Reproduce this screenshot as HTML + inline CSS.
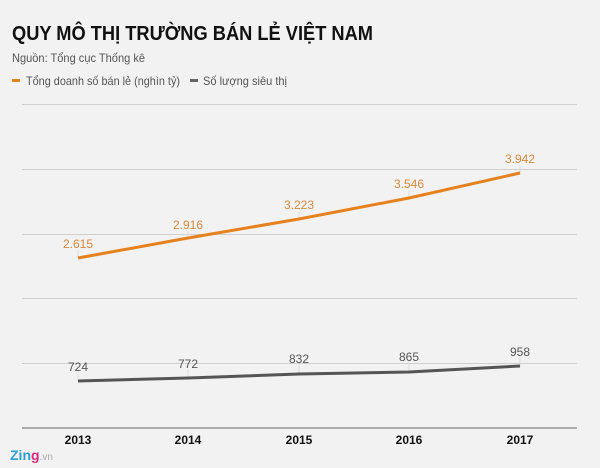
<!DOCTYPE html>
<html><head><meta charset="utf-8"><style>
body{margin:0;background:#f2f2f2;font-family:"Liberation Sans",Arial,sans-serif;}
</style></head><body>
<svg width="600" height="468" xmlns="http://www.w3.org/2000/svg" style="display:block;font-family:'Liberation Sans',Arial,sans-serif">
<rect width="600" height="468" fill="#f2f2f2"/>
<text x="12" y="40" font-size="20" font-weight="bold" fill="#111" textLength="361" lengthAdjust="spacingAndGlyphs">QUY MÔ THỊ TRƯỜNG BÁN LẺ VIỆT NAM</text>
<text x="12" y="62" font-size="12" fill="#555" textLength="133" lengthAdjust="spacingAndGlyphs">Nguồn: Tổng cục Thống kê</text>
<rect x="12" y="79" width="8" height="3" fill="#e5821e"/>
<text x="26" y="85" font-size="12" fill="#555" textLength="154" lengthAdjust="spacingAndGlyphs">Tổng doanh số bán lẻ (nghìn tỷ)</text>
<rect x="190" y="79" width="8" height="3" fill="#666"/>
<text x="203" y="85" font-size="12" fill="#555" textLength="84" lengthAdjust="spacingAndGlyphs">Số lượng siêu thị</text>
<g stroke="#d0d0d0" stroke-width="1">
<line x1="22" x2="577" y1="104.5" y2="104.5"/>
<line x1="22" x2="577" y1="169.5" y2="169.5"/>
<line x1="22" x2="577" y1="234.5" y2="234.5"/>
<line x1="22" x2="577" y1="298.5" y2="298.5"/>
<line x1="22" x2="577" y1="363.5" y2="363.5"/>
</g>
<line x1="22" x2="577" y1="428" y2="428" stroke="#aaa" stroke-width="2"/>
<g stroke="#ddd" stroke-width="1">
<line x1="78" x2="78" y1="250" y2="258"/><line x1="188" x2="188" y1="231" y2="238"/>
<line x1="299" x2="299" y1="211" y2="219"/><line x1="409" x2="409" y1="190" y2="198"/>
<line x1="520" x2="520" y1="165" y2="173"/>
<line x1="78" x2="78" y1="372" y2="381"/><line x1="188" x2="188" y1="369" y2="378"/>
<line x1="299" x2="299" y1="364" y2="374"/><line x1="409" x2="409" y1="362" y2="372"/>
<line x1="520" x2="520" y1="357" y2="366"/>
</g>
<polyline points="78,258 188,238 299,219 409,198 520,173" fill="none" stroke="#e5821e" stroke-width="3"/>
<polyline points="78,381 188,378 299,374 409,372 520,366" fill="none" stroke="#555" stroke-width="3"/>
<g font-size="12" fill="#d9883a" text-anchor="middle">
<text x="78" y="248">2.615</text><text x="188" y="229">2.916</text><text x="299" y="209">3.223</text>
<text x="409" y="188">3.546</text><text x="520" y="163">3.942</text>
</g>
<g font-size="12" fill="#555" text-anchor="middle">
<text x="78" y="371">724</text><text x="188" y="368">772</text><text x="299" y="363">832</text>
<text x="409" y="361">865</text><text x="520" y="356">958</text>
</g>
<g font-size="12" font-weight="bold" fill="#111" text-anchor="middle">
<text x="78" y="444">2013</text><text x="188" y="444">2014</text><text x="299" y="444">2015</text>
<text x="409" y="444">2016</text><text x="520" y="444">2017</text>
</g>
<text x="10" y="460" font-size="14" font-weight="bold"><tspan fill="#2a9fd8">Zin</tspan><tspan fill="#e0267c">g</tspan><tspan fill="#aaa" font-size="10" font-weight="normal">.vn</tspan></text>
</svg>
</body></html>
